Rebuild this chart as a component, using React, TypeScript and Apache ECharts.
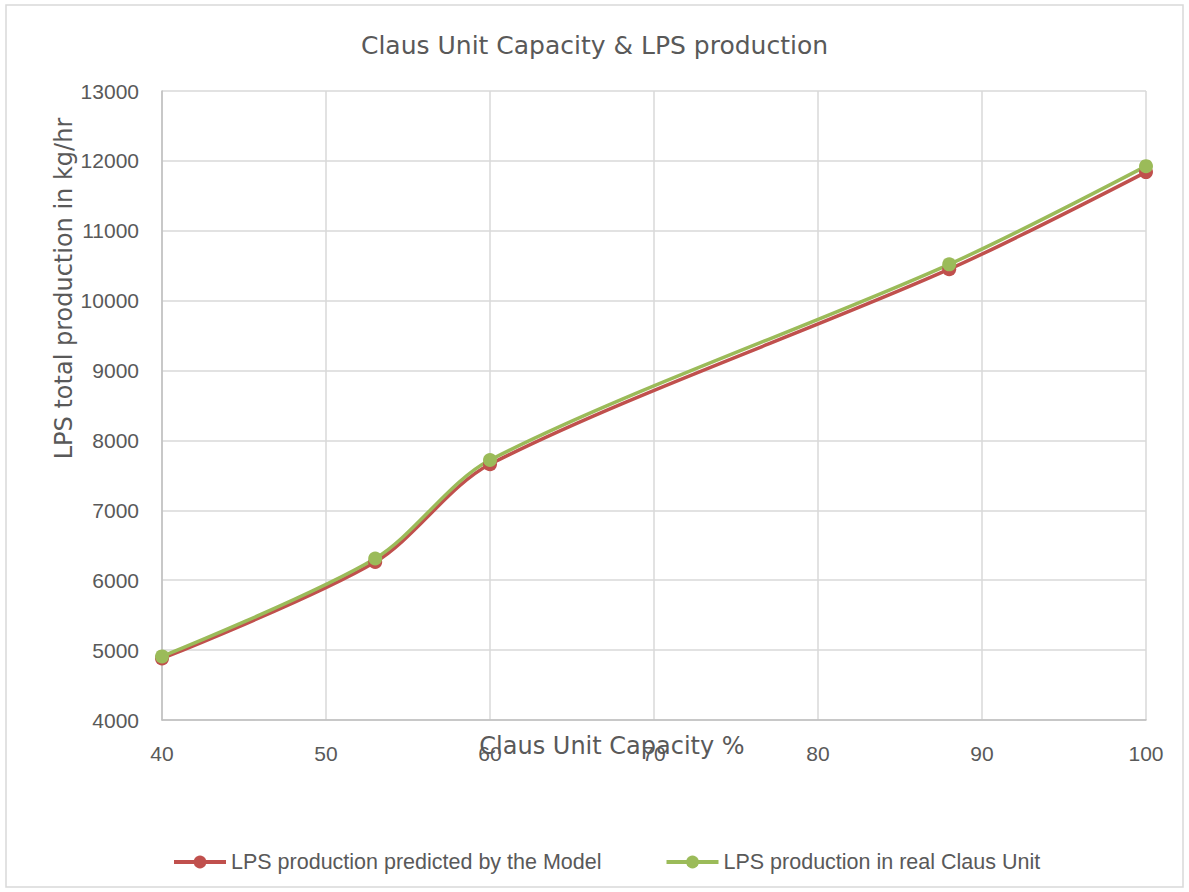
import React, { useEffect, useRef } from "react";
import * as echarts from "echarts";

const capacity = [40, 53, 60, 88, 100];
const modelValues = [4880, 6260, 7660, 10450, 11840];
const realValues = [4910, 6310, 7720, 10520, 11925];
const seriesNames = ["LPS production predicted by the Model", "LPS production in real Claus Unit"];

export default function App() {
  const ref = useRef<HTMLDivElement>(null);
  useEffect(() => {
    document.body.style.margin = "0";
    const chart = echarts.init(ref.current!, null, { renderer: "svg" });
    const font = "DejaVu Sans";
    const tickFont = "Liberation Sans";
    const mk = (name: string, xs: number[], ys: number[], color: string) => ({
      name,
      type: "line",
      smooth: 0.3,
      data: xs.map((x, i) => [x, ys[i]]),
      symbol: "circle",
      symbolSize: 14,
      lineStyle: { color, width: 3.5 },
      itemStyle: { color },
    });
    chart.setOption({
      animation: false,
      backgroundColor: "#fff",
      title: {
        text: "Claus Unit Capacity & LPS production",
        left: "center",
        top: 28,
        textStyle: { fontFamily: font, fontSize: 25, fontWeight: "normal", color: "#595959" },
      },
      graphic: [
        {
          type: "rect",
          shape: { x: 6, y: 5, width: 1177, height: 882 },
          style: { fill: "none", stroke: "#d9d9d9", lineWidth: 1.5 },
          silent: true,
        },
      ],
      grid: { left: 162, right: 43, top: 91, bottom: 172 },
      legend: {
        top: 846,
        left: 167,
        itemGap: 63,
        itemWidth: 52,
        itemHeight: 16,
        data: seriesNames,
        lineStyle: { width: 4 },
        textStyle: {
          fontFamily: "'Liberation Sans Narrow', 'Liberation Sans'",
          fontSize: 21.5,
          color: "#595959",
        },
      },
      xAxis: {
        type: "value",
        min: 40,
        max: 100,
        interval: 10,
        name: "Claus Unit Capacity %",
        nameLocation: "middle",
        nameGap: 14,
        nameMoveOverlap: false,
        nameTextStyle: { fontFamily: font, fontSize: 24, color: "#595959", padding: [0, 84, 0, 0] },
        axisLine: { show: true, lineStyle: { color: "#bfbfbf", width: 1.5 } },
        axisTick: { show: false },
        axisLabel: { fontFamily: tickFont, fontSize: 21, color: "#595959", margin: 23 },
        splitLine: { show: true, lineStyle: { color: "#d9d9d9", width: 1.5 } },
      },
      yAxis: {
        type: "value",
        min: 4000,
        max: 13000,
        interval: 1000,
        name: "LPS total production in kg/hr",
        nameLocation: "middle",
        nameGap: 86,
        nameMoveOverlap: false,
        nameTextStyle: { fontFamily: font, fontSize: 24, color: "#595959", padding: [0, 0, 0, 234] },
        axisLine: { show: true, lineStyle: { color: "#bfbfbf", width: 1.5 } },
        axisTick: { show: false },
        axisLabel: {
          fontFamily: tickFont,
          fontSize: 21,
          color: "#595959",
          margin: 23,
          formatter: (v: number) => String(v),
        },
        splitLine: { show: true, lineStyle: { color: "#d9d9d9", width: 1.5 } },
      },
      series: [
        mk(seriesNames[0], capacity, modelValues, "#C0504D"),
        mk(seriesNames[1], capacity, realValues, "#9BBB59"),
      ],
    });
    return () => chart.dispose();
  }, []);
  return <div ref={ref} style={{ width: 1189, height: 892, position: "absolute", left: 0, top: 0 }} />;
}
